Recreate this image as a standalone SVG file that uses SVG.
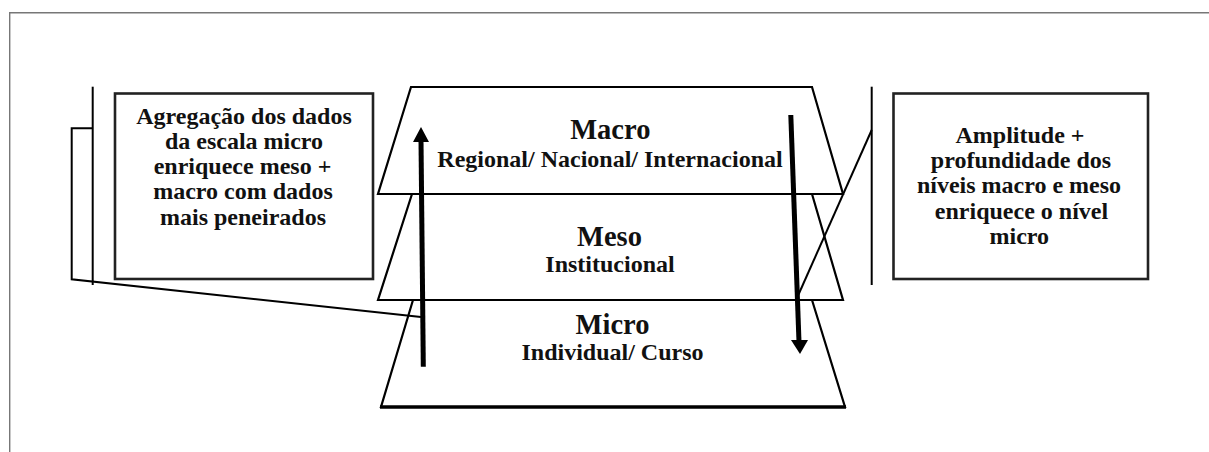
<svg xmlns="http://www.w3.org/2000/svg" width="1209" height="452" viewBox="0 0 1209 452">
<style>
.frame{fill:none;stroke:#777;stroke-width:1.4}
.trap{fill:#fff;stroke:#000;stroke-width:2.2;stroke-linejoin:miter}
.box{fill:#fff;stroke:#222;stroke-width:2.6}
.ln{fill:none;stroke:#000;stroke-width:2}
.arr{fill:none;stroke:#000;stroke-width:5}
.head{fill:#000}
.t{font-weight:bold;fill:#111;text-anchor:middle}
.title{font-size:28.5px}
.sub{font-size:24px}
.bt{font-size:24px}
</style>
<polyline class="frame" points="1209,12.7 9.7,12.7 9.7,452"/>

<g font-family="Liberation Serif, Times New Roman, serif">
<g id="micro">
<polygon class="trap" points="413,300 812,300 845,407 381,407"/>
<line x1="380" y1="407" x2="846" y2="407" stroke="#000" stroke-width="3.5"/>
<text class="t title" x="612.5" y="333.5">Micro</text>
<text class="t sub" x="612.5" y="360">Individual/ Curso</text>
</g>
<g id="meso">
<polygon class="trap" points="412,194 812,194 843,300 378,300"/>
<text class="t title" x="609.5" y="246">Meso</text>
<text class="t sub" x="610" y="271.5">Institucional</text>
</g>
<g id="macro">
<polygon class="trap" points="411,87 812,87 843,194 378,194"/>
<text class="t title" x="610.3" y="139">Macro</text>
<text class="t sub" x="610" y="167">Regional/ Nacional/ Internacional</text>
</g>

<g id="left-box">
<rect class="box" x="115" y="93.5" width="258" height="185.5"/>
<text class="t bt" x="244" y="124">Agregação dos dados</text>
<text class="t bt" x="244" y="149.3">da escala micro</text>
<text class="t bt" x="242.5" y="174.3">enriquece meso +</text>
<text class="t bt" x="243" y="199.3">macro com dados</text>
<text class="t bt" x="243" y="224.5">mais peneirados</text>
</g>
<g id="right-box">
<rect class="box" x="893.5" y="93.5" width="254.5" height="185.5"/>
<text class="t bt" x="1020" y="142.7">Amplitude +</text>
<text class="t bt" x="1021" y="168">profundidade dos</text>
<text class="t bt" x="1019" y="193.3">níveis macro e meso</text>
<text class="t bt" x="1021.5" y="218.6">enriquece o nível</text>
<text class="t bt" x="1019.3" y="244">micro</text>
</g>
</g>

<g id="connectors">
<line class="ln" x1="92.7" y1="86.7" x2="92.7" y2="285"/>
<polyline class="ln" points="92.7,128.3 71.7,128.3 71.7,279.3 421,317"/>
<line class="ln" x1="871.7" y1="86.7" x2="871.7" y2="285"/>
<line class="ln" x1="871.7" y1="130" x2="798.3" y2="295"/>
<line class="arr" x1="423.3" y1="366.7" x2="421" y2="140"/>
<polygon class="head" points="421,127 429,142 413,142"/>
<line class="arr" x1="790.8" y1="115" x2="799" y2="342"/>
<polygon class="head" points="800,354 791,340 808,340"/>
</g>
</svg>
